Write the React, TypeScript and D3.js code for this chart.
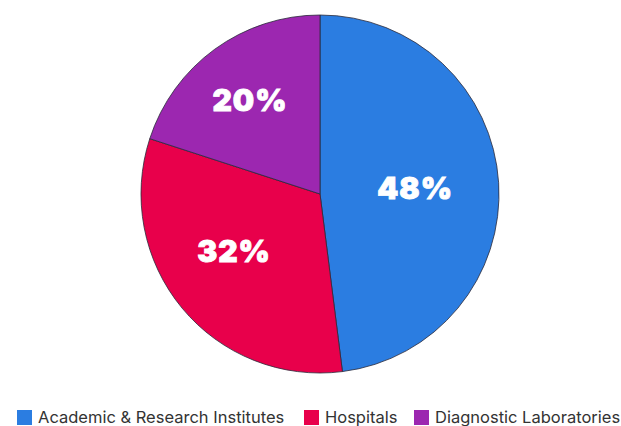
import * as d3 from "d3";

const categories = ["Academic & Research Institutes", "Hospitals", "Diagnostic Laboratories"];
const shares = [48, 32, 20];
const colors = ["#2b7de1", "#e8004b", "#9c27b0"];

const width = 621;
const height = 426;

const App = () => {
  const cx = 320;
  const cy = 194;
  const radius = 179;

  const pie = d3
    .pie<number>()
    .sort(null)
    .value((d) => d);
  const arcs = pie(shares);
  const arc = d3.arc<d3.PieArcDatum<number>>().innerRadius(0).outerRadius(radius);
  // label distance from centre (share of radius) and small angle nudge (deg)
  const labelFrac = [0.53, 0.58, 0.655];
  const labelNudge = [0, 6, -1];

  // legend layout: marker left edges
  const legendX = [17, 304, 414];

  return (
    <svg
      width={width}
      height={height}
      style={{ position: "absolute", left: 0, top: 0, fontFamily: "Inter, sans-serif" }}
    >
      <g transform={`translate(${cx},${cy})`}>
        {arcs.map((a, i) => (
          <path key={i} d={arc(a) || ""} fill={colors[i]} stroke="#2a2a3a" strokeWidth={0.8} />
        ))}
        {arcs.map((a, i) => {
          const r = radius * labelFrac[i];
          const ang = (a.startAngle + a.endAngle) / 2 + (labelNudge[i] * Math.PI) / 180;
          const x = r * Math.sin(ang);
          const y = -r * Math.cos(ang);
          return (
            <text
              key={i}
              x={x + 0.5}
              y={y}
              textAnchor="middle"
              dominantBaseline="central"
              fill="#fff"
              stroke="#fff"
              strokeWidth={0.9}
              fontSize={30}
              fontWeight={900}
              letterSpacing={1}
            >
              {shares[i]}%
            </text>
          );
        })}
      </g>
      <g>
        {categories.map((c, i) => (
          <g key={c} transform={`translate(${legendX[i]},410)`}>
            <rect width={15} height={15} fill={colors[i]} />
            <text x={21} y={7} dominantBaseline="central" fontSize={16.5} fill="#333">
              {c}
            </text>
          </g>
        ))}
      </g>
    </svg>
  );
};

export default App;
